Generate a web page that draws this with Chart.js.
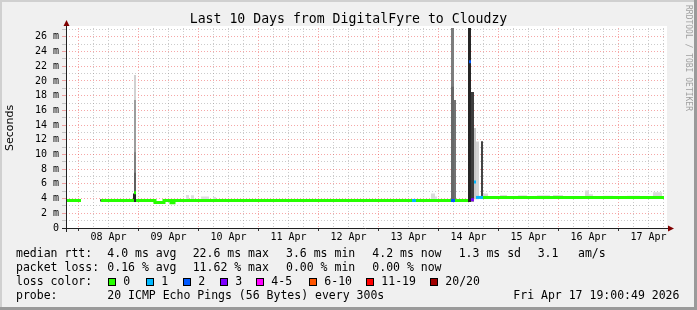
<!DOCTYPE html>
<html>
<head>
<meta charset="utf-8">
<title>Last 10 Days from DigitalFyre to Cloudzy</title>
<script src="https://cdn.jsdelivr.net/npm/chart.js@4.4.1/dist/chart.umd.min.js"></script>
<style>
  html, body { margin: 0; padding: 0; background: #f0f0f0; }
  #graph { display: block; }
</style>
</head>
<body>
<canvas id="graph" width="697" height="310"></canvas>
<script>
// x is in hours from 08 Apr 00:00, the graph covers 07 Apr 19:00 -> 17 Apr 19:00
var xStart = -5;
var xEnd = 235;
var yMax = 27.2;        // ms
var stepHours = 0.4;    // one rrd row per pixel (24 min)
var dayLabels = ['08 Apr', '09 Apr', '10 Apr', '11 Apr', '12 Apr', '13 Apr', '14 Apr', '15 Apr', '16 Apr', '17 Apr'];

// median rtt (ms), one entry per run with the same value and loss
var medianFrom = [-5, 9.0, 22.2, 23.0, 30.6, 34.2, 37.0, 38.2, 133.4, 135.0, 149.0, 150.6, 156.2, 157.0, 158.2, 159.0, 161.8];
var medianTo   = [1.0, 22.2, 23.0, 30.6, 34.2, 37.0, 38.2, 133.4, 135.0, 149.0, 150.6, 155.8, 157.0, 158.2, 159.0, 161.8, 234.2];
var medianMs   = [3.74, 3.74, 4.8, 3.74, 3.48, 3.74, 3.45, 3.74, 3.74, 3.74, 3.74, 3.74, 22.6, 3.85, 6.25, 4.16, 4.16];
var medianLoss = [0, 0, 0, 0, 0, 0, 0, 0, 1, 0, 2, 0, 2, 3, 1, 1, 0];
var medianGapBefore = [1, 2, 3, 12, 13, 14, 15];

var lossLabels = ['0', '1', '2', '3', '4-5', '6-10', '11-19', '20/20'];
var lossColors = ['#26ff00', '#00b8ff', '#0059ff', '#7e00ff', '#ff00ff', '#ff5500', '#ff0000', '#a10000'];

// smoke: spread of the 20 pings, drawn back to front
var smokeFrom    = [22.2, 22.2, 22.2, 22.2, 21.8, 8.6, 43.0, 45.0, 49.0, 53.8, 141.0, 142.6, 149.0, 149.0, 150.2, 155.8, 157.0, 158.2, 159.0, 161.0, 161.8, 168.6, 175.8, 183.4, 189.8, 202.6, 204.2, 209.8, 219.4, 229.8];
var smokeTo      = [23.0, 23.0, 23.0, 23.0, 23.0, 9.0, 44.2, 46.2, 52.2, 55.0, 142.6, 143.4, 150.2, 150.2, 151.0, 157.0, 158.2, 159.0, 160.2, 161.8, 163.8, 171.4, 179.4, 188.6, 193.8, 204.2, 205.8, 213.8, 224.6, 233.4];
var smokeLow     = [3.8, 3.8, 3.8, 3.8, 3.55, 3.6, 3.8, 3.8, 3.8, 3.8, 3.8, 3.8, 3.8, 3.8, 3.8, 3.55, 3.6, 3.9, 3.9, 4.0, 4.1, 4.1, 4.1, 4.1, 4.1, 4.1, 4.1, 4.1, 4.1, 4.1];
var smokeHigh    = [20.8, 17.4, 10.3, 7.5, 4.7, 3.9, 4.5, 4.45, 4.3, 4.2, 4.7, 4.3, 30, 19.2, 17.4, 30, 18.5, 13.6, 11.75, 11.8, 4.7, 4.5, 4.45, 4.45, 4.5, 5.1, 4.6, 4.4, 4.4, 4.85];
var smokeDensity = [0.1, 0.38, 0.53, 0.7, 1.0, 0.84, 0.03, 0.03, 0.03, 0.03, 0.05, 0.03, 0.54, 0.66, 0.6, 1.0, 0.88, 0.15, 0.09, 0.84, 0.07, 0.04, 0.04, 0.04, 0.04, 0.06, 0.04, 0.04, 0.04, 0.05];

// legend texts
var rttSummary = ['4.0 ms avg', '22.6 ms max', '3.6 ms min', '4.2 ms now', '1.3 ms sd', '3.1', 'am/s'];
var lossSummary = ['0.16 % avg', '11.62 % max', '0.00 % min', '0.00 % now'];
var probeText = '20 ICMP Echo Pings (56 Bytes) every 300s';
var stampText = 'Fri Apr 17 19:00:49 2026';

var majorGrid = 'rgba(235, 60, 60, 0.45)';
var minorGrid = 'rgba(140, 140, 140, 0.45)';
var monoFont = '"DejaVu Sans Mono", "Liberation Mono", monospace';

// median line points (null breaks the line)
var medianPoints = [];
var medianPointLoss = [];
for (var i = 0; i < medianMs.length; i++) {
  if (medianGapBefore.indexOf(i) >= 0) {
    medianPoints.push({ x: medianFrom[i], y: null });
    medianPointLoss.push(0);
  }
  medianPoints.push({ x: medianFrom[i], y: medianMs[i] });
  medianPointLoss.push(medianLoss[i]);
  medianPoints.push({ x: medianTo[i], y: medianMs[i] });
  medianPointLoss.push(medianLoss[i]);
}

// every smoke block becomes one floating bar per rrd row
var smokeSets = smokeFrom.map(function (from, i) {
  var cols = [];
  var p0 = Math.round((from - xStart) / stepHours);
  var p1 = Math.round((smokeTo[i] - xStart) / stepHours);
  for (var p = p0; p < p1; p++) {
    cols.push({ x: xStart + (p + 0.5) * stepHours, y: [smokeLow[i], smokeHigh[i]] });
  }
  var g = Math.round(228 - smokeDensity[i] * 190);
  return {
    type: 'bar',
    data: cols,
    backgroundColor: 'rgb(' + g + ',' + g + ',' + g + ')',
    borderWidth: 0,
    barThickness: 1,
    maxBarThickness: 1,
    grouped: false,
    inflateAmount: 0,
    order: smokeFrom.length - i + 1
  };
});

var hourTicks = [];
for (var h = 0; h <= xEnd; h += 6) hourTicks.push({ value: h });
var msTicks = [];
for (var m = 0; m <= Math.floor(yMax); m++) msTicks.push({ value: m });

var rrdFrame = {
  id: 'rrdFrame',
  beforeDraw: function (chart) {
    var ctx = chart.ctx, a = chart.chartArea;
    ctx.save();
    ctx.fillStyle = '#f0f0f0';
    ctx.fillRect(0, 0, 697, 310);
    ctx.fillStyle = '#d0d0d0';
    ctx.fillRect(0, 0, 697, 2);
    ctx.fillRect(0, 0, 2, 310);
    ctx.fillStyle = '#9a9a9a';
    ctx.fillRect(0, 307, 697, 3);
    ctx.fillRect(694, 0, 3, 310);
    ctx.fillStyle = '#ffffff';
    ctx.fillRect(a.left, a.top - 2, a.right - a.left + 1, a.bottom - a.top + 2);
    ctx.restore();
  },
  afterDatasetsDraw: function (chart) {
    var ctx = chart.ctx, a = chart.chartArea;
    ctx.save();
    ctx.strokeStyle = '#202020';
    ctx.lineWidth = 1;
    ctx.beginPath();
    ctx.moveTo(a.left - 4, a.bottom + 0.5);
    ctx.lineTo(a.right + 3, a.bottom + 0.5);
    ctx.moveTo(a.left + 0.5, a.bottom + 4);
    ctx.lineTo(a.left + 0.5, a.top - 3);
    ctx.stroke();
    ctx.fillStyle = '#7f0000';
    ctx.beginPath();
    ctx.moveTo(a.right + 2, a.bottom - 2.5);
    ctx.lineTo(a.right + 8, a.bottom + 0.5);
    ctx.lineTo(a.right + 2, a.bottom + 3.5);
    ctx.fill();
    ctx.beginPath();
    ctx.moveTo(a.left - 2.5, a.top - 2);
    ctx.lineTo(a.left + 0.5, a.top - 8);
    ctx.lineTo(a.left + 3.5, a.top - 2);
    ctx.fill();
    ctx.restore();
  },
  afterDraw: function (chart) {
    var ctx = chart.ctx;
    var tabs = [107.3, 192.7, 286, 372.3, 458.7, 537.7, 578];
    ctx.save();
    ctx.font = '11.5px ' + monoFont;
    ctx.fillStyle = '#000';
    ctx.textBaseline = 'middle';
    ctx.textAlign = 'left';
    ctx.fillText('median rtt:', 16, 254.5);
    rttSummary.forEach(function (t, i) { ctx.fillText(t, tabs[i], 254.5); });
    ctx.fillText('packet loss:', 16, 268.5);
    lossSummary.forEach(function (t, i) { ctx.fillText(t, tabs[i], 268.5); });
    ctx.fillText('loss color:', 16, 282.5);
    var boxX = [108, 146, 183, 220, 256, 309, 366, 430];
    lossLabels.forEach(function (t, i) {
      ctx.fillStyle = lossColors[i];
      ctx.fillRect(boxX[i], 278, 8, 8);
      ctx.strokeStyle = '#000';
      ctx.lineWidth = 1;
      ctx.strokeRect(boxX[i] + 0.5, 278.5, 7, 7);
      ctx.fillStyle = '#000';
      ctx.fillText(t, boxX[i] + 15.3, 282.5);
    });
    ctx.fillText('probe:', 16, 296.5);
    ctx.fillText(probeText, 107.3, 296.5);
    ctx.fillText(stampText, 513.3, 296.5);

    // rrdtool watermark
    ctx.translate(688.5, 5);
    ctx.rotate(Math.PI / 2);
    ctx.font = '8px ' + monoFont;
    ctx.fillStyle = '#a0a0a0';
    ctx.fillText('RRDTOOL / TOBI OETIKER', 0, 0);
    ctx.restore();
  }
};

new Chart(document.getElementById('graph'), {
  type: 'bar',
  data: {
    datasets: smokeSets.concat([{
      type: 'line',
      data: medianPoints,
      borderColor: lossColors[0],
      borderWidth: 3,
      borderCapStyle: 'butt',
      pointRadius: 0,
      tension: 0,
      fill: false,
      spanGaps: false,
      order: 0,
      segment: {
        borderColor: function (c) { return lossColors[medianPointLoss[c.p0DataIndex]]; }
      }
    }])
  },
  options: {
    responsive: false,
    animation: false,
    events: [],
    layout: { padding: 0 },
    plugins: {
      legend: { display: false },
      tooltip: { enabled: false },
      title: {
        display: true,
        text: 'Last 10 Days from DigitalFyre to Cloudzy',
        color: '#000',
        font: { family: monoFont, size: 13.2, weight: 'normal', lineHeight: 1.2 },
        padding: { top: 11.4, bottom: 0.76 }
      }
    },
    scales: {
      x: {
        type: 'linear',
        min: xStart,
        max: xEnd,
        offset: false,
        afterFit: function (s) { s.height = 82; },
        afterBuildTicks: function (s) { s.ticks = hourTicks.slice(); },
        grid: {
          offset: false,
          color: function (c) { return c.tick && c.tick.value % 24 === 0 ? majorGrid : minorGrid; },
          tickLength: 3,
          tickColor: function (c) { return c.tick && c.tick.value % 24 === 0 ? '#333' : 'rgba(0,0,0,0)'; }
        },
        border: { display: false, dash: [1, 2] },
        ticks: {
          autoSkip: false,
          maxRotation: 0,
          padding: 0.5,
          color: '#000',
          font: { family: monoFont, size: 10 },
          callback: function (v) { return v % 24 === 12 ? dayLabels[(v - 12) / 24] : ''; }
        }
      },
      y: {
        type: 'linear',
        min: 0,
        max: yMax,
        afterFit: function (s) { s.width = 66; },
        afterBuildTicks: function (s) { s.ticks = msTicks.slice(); },
        grid: {
          color: function (c) { return c.tick && c.tick.value % 2 === 0 ? majorGrid : minorGrid; },
          tickLength: 4
        },
        border: { display: false, dash: [1, 2] },
        title: {
          display: true,
          text: 'Seconds',
          color: '#000',
          font: { family: '"DejaVu Sans", sans-serif', size: 11 },
          padding: { top: 4, bottom: 0 }
        },
        ticks: {
          autoSkip: false,
          padding: 3,
          color: '#000',
          font: { family: monoFont, size: 10 },
          callback: function (v) { return v === 0 ? '0' : (v % 2 === 0 ? v + ' m' : ''); }
        }
      },
      gap: {
        type: 'linear',
        position: 'right',
        display: true,
        min: 0,
        max: 1,
        afterFit: function (s) { s.width = 31; },
        grid: { display: false },
        border: { display: false },
        ticks: { display: false }
      }
    }
  },
  plugins: [rrdFrame]
});
</script>
</body>
</html>
